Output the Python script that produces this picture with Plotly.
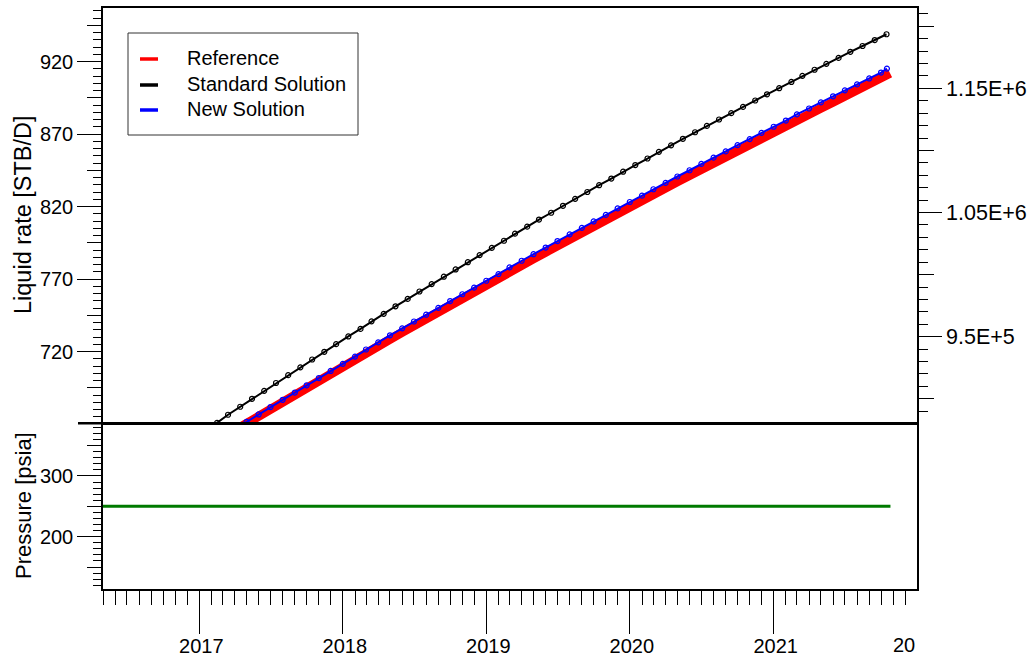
import plotly.graph_objects as go

# ---------------- data ----------------
std_dates = [
    "2017-01-15", "2017-02-15", "2017-03-15", "2017-04-15", "2017-05-15", "2017-06-15",
    "2017-07-15", "2017-08-15", "2017-09-15", "2017-10-15", "2017-11-15", "2017-12-15",
    "2018-01-15", "2018-02-15", "2018-03-15", "2018-04-15", "2018-05-15", "2018-06-15",
    "2018-07-15", "2018-08-15", "2018-09-15", "2018-10-15", "2018-11-15", "2018-12-15",
    "2019-01-15", "2019-02-15", "2019-03-15", "2019-04-15", "2019-05-15", "2019-06-15",
    "2019-07-15", "2019-08-15", "2019-09-15", "2019-10-15", "2019-11-15", "2019-12-15",
    "2020-01-15", "2020-02-15", "2020-03-15", "2020-04-15", "2020-05-15", "2020-06-15",
    "2020-07-15", "2020-08-15", "2020-09-15", "2020-10-15", "2020-11-15", "2020-12-15",
    "2021-01-15", "2021-02-15", "2021-03-15", "2021-04-15", "2021-05-15", "2021-06-15",
    "2021-07-15", "2021-08-15", "2021-09-15", "2021-10-15",
]
std_rate = [
    665.4, 670.9, 676.5, 682.0, 687.5, 693.0, 698.4, 703.8, 709.2, 714.6, 719.9, 725.2,
    730.5, 735.7, 740.9, 746.1, 751.3, 756.4, 761.5, 766.6, 771.7, 776.7, 781.7, 786.6,
    791.6, 796.5, 801.4, 806.2, 811.1, 815.8, 820.6, 825.4, 830.1, 834.8, 839.4, 844.1,
    848.7, 853.2, 857.8, 862.3, 866.8, 871.3, 875.7, 880.1, 884.5, 888.8, 893.2, 897.5,
    901.7, 906.0, 910.2, 914.4, 918.5, 922.6, 926.8, 930.8, 934.9, 938.9,
]

new_dates = [
    "2017-04-01", "2017-05-01", "2017-06-01", "2017-07-01", "2017-08-01", "2017-09-01",
    "2017-10-01", "2017-11-01", "2017-12-01",
    "2018-01-01", "2018-02-01", "2018-03-01", "2018-04-01", "2018-05-01", "2018-06-01",
    "2018-07-01", "2018-08-01", "2018-09-01", "2018-10-01", "2018-11-01", "2018-12-01",
    "2019-01-01", "2019-02-01", "2019-03-01", "2019-04-01", "2019-05-01", "2019-06-01",
    "2019-07-01", "2019-08-01", "2019-09-01", "2019-10-01", "2019-11-01", "2019-12-01",
    "2020-01-01", "2020-02-01", "2020-03-01", "2020-04-01", "2020-05-01", "2020-06-01",
    "2020-07-01", "2020-08-01", "2020-09-01", "2020-10-01", "2020-11-01", "2020-12-01",
    "2021-01-01", "2021-02-01", "2021-03-01", "2021-04-01", "2021-05-01", "2021-06-01",
    "2021-07-01", "2021-08-01", "2021-09-01", "2021-10-01", "2021-10-16",
]
new_rate = [
    666.5, 671.6, 676.7, 681.8, 686.8, 691.8, 696.8, 701.8, 706.7,
    711.6, 716.6, 721.5, 726.4, 731.3, 736.1, 740.8, 745.5, 750.2, 754.9, 759.6, 764.2,
    768.9, 773.5, 778.1, 782.7, 787.2, 791.8, 796.3, 800.9, 805.4, 809.8, 814.3, 818.8,
    823.2, 827.6, 832.0, 836.4, 840.8, 845.1, 849.5, 853.8, 858.1, 862.4, 866.6, 870.9,
    875.1, 879.4, 883.6, 887.7, 891.9, 896.1, 900.2, 904.3, 908.4, 912.5, 915.2,
]
ref_dates = new_dates[:-1] + ["2021-10-24"]
ref_rate = [
    665.7, 670.6, 675.6, 680.5, 685.3, 690.2, 695.1, 699.9, 704.7,
    709.5, 714.3, 719.1, 723.8, 728.5, 733.3, 738.0, 742.6, 747.3, 752.0, 756.6, 761.2,
    765.8, 770.4, 775.0, 779.5, 784.0, 788.6, 793.1, 797.5, 802.0, 806.5, 810.9, 815.3,
    819.7, 824.1, 828.5, 832.8, 837.1, 841.5, 845.8, 850.0, 854.3, 858.6, 862.8, 867.0,
    871.2, 875.4, 879.6, 883.7, 887.8, 892.0, 896.1, 900.1, 904.2, 908.3, 912.0,
]

pressure_dates = ["2016-05-01", "2021-10-25"]
pressure_psia = [250, 250]

series_names = ["Reference", "Standard Solution", "New Solution"]
series_colors = ["#ff0000", "#000000", "#0000ff"]

year_ticks = ["2017-01-01", "2018-01-01", "2019-01-01", "2020-01-01", "2021-01-01"]
right_tick_vals = [9.5e5, 1.05e6, 1.15e6]
right_tick_text = ["9.5E+5", "1.05E+6", "1.15E+6"]

# ---------------- layout geometry ----------------
X_RANGE = ["2016-05-01", "2021-12-31 12:00"]
RATE_RANGE = [670.6, 957.0]
PRES_RANGE = [113.8, 386.8]
RIGHT_RANGE = [880270, 1214700]
SPLIT = 0.2852
FONT = "Liberation Sans, Arial, sans-serif"

L, T, W, H = 103, 8, 814, 581   # plot area in page pixels


def px_x(px):
    return (px - L) / W


def px_y(py):
    return (T + H - py) / H


fig = go.Figure()

# Reference (thick red band)
fig.add_trace(go.Scatter(x=ref_dates, y=ref_rate, mode="lines", name=series_names[0],
                         line=dict(color=series_colors[0], width=9),
                         xaxis="x2", yaxis="y", hoverinfo="skip"))
# Standard solution (black chain of open circles)
fig.add_trace(go.Scatter(x=std_dates, y=std_rate, mode="lines+markers", name=series_names[1],
                         line=dict(color=series_colors[1], width=2),
                         marker=dict(symbol="circle-open", size=5, color=series_colors[1],
                                     line=dict(width=1.2)),
                         xaxis="x2", yaxis="y", hoverinfo="skip"))
# New solution (blue chain of open circles)
fig.add_trace(go.Scatter(x=new_dates, y=new_rate, mode="lines+markers", name=series_names[2],
                         line=dict(color=series_colors[2], width=2),
                         marker=dict(symbol="circle-open", size=5, color=series_colors[2],
                                     line=dict(width=1.2)),
                         xaxis="x2", yaxis="y", hoverinfo="skip"))
# Pressure
fig.add_trace(go.Scatter(x=pressure_dates, y=pressure_psia, mode="lines", name="Pressure",
                         line=dict(color="#007a00", width=3),
                         xaxis="x", yaxis="y2", hoverinfo="skip"))

# dummy traces binding the extra tick axes
for ya, xa in [("y3", "x2"), ("y4", "x"), ("y5", "x2"), ("y6", "x2")]:
    fig.add_trace(go.Scatter(x=[None], y=[None], mode="markers", xaxis=xa, yaxis=ya,
                             hoverinfo="skip"))

tickfont = dict(family=FONT, size=20, color="black")

fig.update_layout(
    width=1028, height=659, autosize=False,
    margin=dict(l=103, r=111, t=8, b=70, pad=0, autoexpand=False),
    paper_bgcolor="white", plot_bgcolor="white",
    font=dict(family=FONT, size=20, color="black"),
    showlegend=False,
    xaxis=dict(type="date", range=X_RANGE, domain=[0, 1], anchor="y2", automargin=False,
               showgrid=False, zeroline=False, showline=True, linecolor="black", linewidth=1.5,
               tickmode="array", tickvals=year_ticks, tickformat="%Y",
               ticks="outside", ticklen=43, tickwidth=1, tickcolor="black",
               ticklabelshift=2, ticklabelstandoff=-5,
               tickfont=tickfont,
               minor=dict(tickmode="linear", dtick="M1", tick0="2016-01-01",
                          ticks="outside", ticklen=14, tickwidth=1, tickcolor="black",
                          showgrid=False)),
    xaxis2=dict(type="date", range=X_RANGE, domain=[0, 1], anchor="y", matches="x",
                automargin=False,
                showgrid=False, zeroline=False, showline=True, mirror=True,
                linecolor="black", linewidth=1.5, ticks="", showticklabels=False),
    yaxis=dict(domain=[SPLIT, 1], anchor="x2", range=RATE_RANGE, automargin=False,
               showgrid=False, zeroline=False, showline=True, mirror=True,
               linecolor="black", linewidth=1.5,
               tickmode="linear", tick0=720, dtick=50,
               ticks="outside", ticklen=24, tickwidth=1, tickcolor="black",
               tickfont=tickfont,
               minor=dict(tickmode="linear", tick0=0, dtick=5, ticks="outside",
                          ticklen=8, tickwidth=1, tickcolor="black", showgrid=False)),
    yaxis2=dict(domain=[0, SPLIT], anchor="x", range=PRES_RANGE, automargin=False,
                showgrid=False, zeroline=False, showline=True, mirror=True,
                linecolor="black", linewidth=1.5,
                tickmode="linear", tick0=200, dtick=100,
                ticks="outside", ticklen=24, tickwidth=1, tickcolor="black",
                tickfont=tickfont,
                minor=dict(tickmode="linear", tick0=0, dtick=10, ticks="outside",
                           ticklen=8, tickwidth=1, tickcolor="black", showgrid=False)),
    yaxis3=dict(overlaying="y", anchor="x2", side="left", range=RATE_RANGE, automargin=False,
                showgrid=False, zeroline=False, showline=False,
                tickmode="linear", tick0=695, dtick=50, ticks="outside", ticklen=15,
                tickwidth=1, tickcolor="black", showticklabels=False),
    yaxis4=dict(overlaying="y2", anchor="x", side="left", range=PRES_RANGE, automargin=False,
                showgrid=False, zeroline=False, showline=False,
                tickmode="linear", tick0=150, dtick=100, ticks="outside", ticklen=15,
                tickwidth=1, tickcolor="black", showticklabels=False),
    yaxis5=dict(overlaying="y", anchor="x2", side="right", range=RIGHT_RANGE, automargin=False,
                showgrid=False, zeroline=False, showline=True, linecolor="black", linewidth=1.5,
                tickmode="array", tickvals=right_tick_vals, ticktext=right_tick_text,
                ticks="outside", ticklen=23, tickwidth=1, tickcolor="black",
                tickfont=dict(family=FONT, size=21.5, color="black"),
                minor=dict(tickmode="linear", tick0=0, dtick=10000, ticks="outside",
                           ticklen=9, tickwidth=1, tickcolor="black", showgrid=False)),
    yaxis6=dict(overlaying="y", anchor="x2", side="right", range=RIGHT_RANGE, automargin=False,
                showgrid=False, zeroline=False, showline=False,
                tickmode="linear", tick0=0, dtick=100000, ticks="outside", ticklen=16,
                tickwidth=1, tickcolor="black", showticklabels=False),
)

# legend frame, keys and labels
fig.add_shape(type="rect", xref="paper", yref="paper",
              x0=px_x(128), x1=px_x(358), y0=px_y(135), y1=px_y(33),
              line=dict(color="#333333", width=1), fillcolor="rgba(0,0,0,0)")
for name, col, row_y in zip(series_names, series_colors, [59, 85, 110]):
    fig.add_shape(type="line", xref="paper", yref="paper",
                  x0=px_x(140), x1=px_x(158), y0=px_y(row_y), y1=px_y(row_y),
                  line=dict(color=col, width=3.5))
    fig.add_annotation(text=name, xref="paper", yref="paper",
                       x=px_x(185), y=px_y(row_y - 1), xanchor="left", yanchor="middle",
                       showarrow=False, font=dict(family=FONT, size=20, color="black"))

# panel divider with its long left tick
fig.add_shape(type="line", xref="paper", yref="paper",
              x0=px_x(78), x1=1.0, y0=SPLIT, y1=SPLIT,
              line=dict(color="black", width=2.5))

# axis titles
fig.add_annotation(text="Liquid rate [STB/D]", xref="paper", yref="paper",
                   x=px_x(23), y=px_y(215), xanchor="center", yanchor="middle",
                   textangle=-90, showarrow=False,
                   font=dict(family=FONT, size=23.5, color="black"))
fig.add_annotation(text="Pressure [psia]", xref="paper", yref="paper",
                   x=px_x(23), y=px_y(506), xanchor="center", yanchor="middle",
                   textangle=-90, showarrow=False,
                   font=dict(family=FONT, size=22, color="black"))
# clipped last year label
fig.add_annotation(text="20", xref="paper", yref="paper",
                   x=1.0, y=px_y(645), xanchor="right", yanchor="middle",
                   showarrow=False, font=dict(family=FONT, size=20, color="black"))

fig.write_html("out.html", config={"displayModeBar": False},
               post_script="document.body.style.margin='0';")
